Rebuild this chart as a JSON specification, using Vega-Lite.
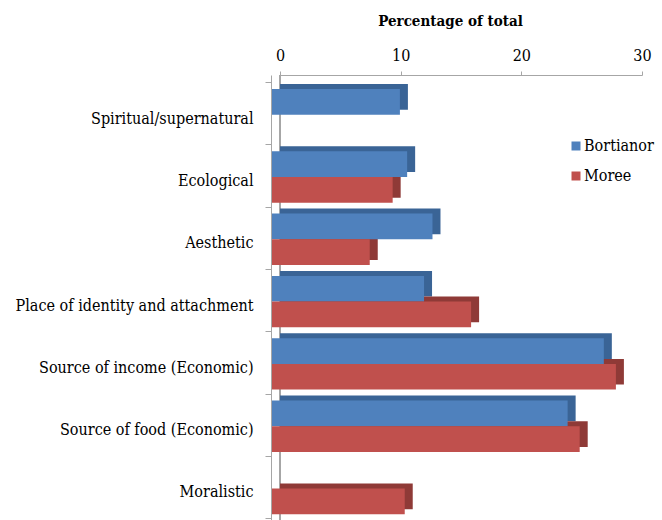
{
  "$schema": "https://vega.github.io/schema/vega-lite/v6.json",
  "autosize": "none",
  "padding": {"left": 280, "top": 75, "right": 20, "bottom": 0},
  "width": 362,
  "height": 445,
  "background": "white",
  "config": {"view": {"stroke": null}, "font": "DejaVu Serif Condensed, DejaVu Serif"},
  "data": {
    "values": [
      {"category": "Spiritual/supernatural", "series": "Bortianor", "value": 10.6},
      {"category": "Ecological", "series": "Bortianor", "value": 11.2},
      {"category": "Ecological", "series": "Moree", "value": 10.0},
      {"category": "Aesthetic", "series": "Bortianor", "value": 13.3},
      {"category": "Aesthetic", "series": "Moree", "value": 8.1},
      {"category": "Place of identity and attachment", "series": "Bortianor", "value": 12.6},
      {"category": "Place of identity and attachment", "series": "Moree", "value": 16.5},
      {"category": "Source of income (Economic)", "series": "Bortianor", "value": 27.5},
      {"category": "Source of income (Economic)", "series": "Moree", "value": 28.5},
      {"category": "Source of food (Economic)", "series": "Bortianor", "value": 24.5},
      {"category": "Source of food (Economic)", "series": "Moree", "value": 25.5},
      {"category": "Moralistic", "series": "Moree", "value": 11.0}
    ]
  },
  "encoding": {
    "y": {
      "field": "category",
      "type": "nominal",
      "sort": ["Spiritual/supernatural", "Ecological", "Aesthetic", "Place of identity and attachment", "Source of income (Economic)", "Source of food (Economic)", "Moralistic"],
      "scale": {"paddingInner": 0, "paddingOuter": 0.0714, "align": 0.787},
      "axis": {
        "title": null,
        "orient": "left",
        "offset": 9,
        "tickBand": "extent",
        "tickOffset": 5,
        "labelOffset": 5,
        "tickSize": 6,
        "tickColor": "#A6A6A6",
        "domainColor": "#A6A6A6",
        "labelFont": "DejaVu Serif Condensed, DejaVu Serif",
        "labelFontSize": 16,
        "labelColor": "#000000",
        "labelPadding": 12,
        "labelLimit": 300
      }
    },
    "x": {
      "field": "value",
      "type": "quantitative",
      "scale": {"domain": [0, 30], "nice": false},
      "axis": {
        "orient": "top",
        "values": [0, 10, 20, 30],
        "grid": false,
        "labelFlush": false,
        "labelFont": "DejaVu Serif Condensed, DejaVu Serif",
        "labelFontSize": 16,
        "labelColor": "#000000",
        "labelPadding": 8,
        "tickSize": 4,
        "tickColor": "#A6A6A6",
        "domainColor": "#A6A6A6",
        "title": "Percentage of total",
        "titleFont": "DejaVu Serif Condensed, DejaVu Serif",
        "titleFontSize": 15,
        "titleFontWeight": "bold",
        "titleColor": "#000000",
        "titlePadding": 19,
        "titleX": 170,
        "titleAlign": "center"
      }
    }
  },
  "layer": [
    {
      "mark": {"type": "rule", "color": "#A6A6A6", "strokeWidth": 1},
      "encoding": {"x": {"datum": 0}, "y": null}
    },
    {
      "mark": {"type": "bar", "opacity": 1},
      "encoding": {
        "yOffset": {
          "field": "series",
          "type": "nominal",
          "sort": ["Bortianor", "Moree"],
          "scale": {"paddingInner": 0, "paddingOuter": 0.212, "align": 0.183}
        },
        "color": {
          "field": "series",
          "type": "nominal",
          "scale": {"domain": ["Bortianor", "Moree"], "range": ["#3A6496", "#8F3A37"]},
          "legend": null
        }
      }
    },
    {
      "mark": {"type": "bar", "xOffset": -8, "opacity": 1},
      "encoding": {
        "yOffset": {
          "field": "series",
          "type": "nominal",
          "sort": ["Bortianor", "Moree"],
          "scale": {"paddingInner": 0, "paddingOuter": 0.212, "align": 0.642}
        },
        "color": {
          "field": "series",
          "type": "nominal",
          "scale": {"domain": ["Bortianor", "Moree"], "range": ["#4F81BD", "#C0504D"]},
          "legend": {
            "title": null,
            "orient": "none",
            "legendX": 288,
            "legendY": 63,
            "symbolType": "square",
            "symbolSize": 81,
            "symbolStrokeWidth": 0,
            "labelFont": "DejaVu Serif Condensed, DejaVu Serif",
            "labelFontSize": 16,
            "labelColor": "#000000",
            "labelOffset": 0,
            "rowPadding": 14,
            "padding": 0
          }
        }
      }
    }
  ],
  "resolve": {"scale": {"color": "independent", "yOffset": "independent"}, "legend": {"color": "independent"}}
}
